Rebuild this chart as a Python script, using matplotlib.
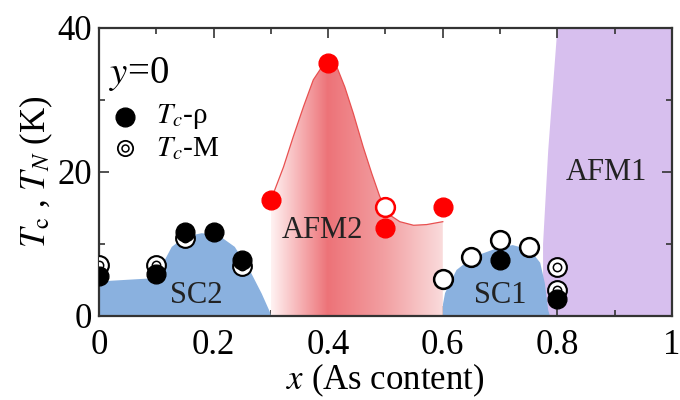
import numpy as np
import matplotlib
matplotlib.use("Agg")
import matplotlib.pyplot as plt
from matplotlib.patches import Polygon
from matplotlib.colors import LinearSegmentedColormap
from matplotlib.ticker import MultipleLocator

plt.rcParams['font.family'] = ['Liberation Serif', 'DejaVu Serif']
plt.rcParams['mathtext.fontset'] = 'stix'

# Tc from resistivity (filled black)
tc_rho_x = [0, 0.1, 0.15, 0.2, 0.25, 0.7, 0.8]
tc_rho_y = [5.5, 5.9, 11.7, 11.7, 7.8, 7.8, 2.3]
# Tc from magnetization (double circle)
tc_m_x = [0, 0.1, 0.15, 0.25, 0.8, 0.8]
tc_m_y = [7.1, 7.1, 10.8, 6.9, 6.75, 3.6]
# open circles in SC1
open_x = [0.6, 0.65, 0.7, 0.75]
open_y = [5.2, 8.25, 10.5, 9.6]
# TN (red)
tn_x = [0.3, 0.4, 0.5, 0.6]
tn_y = [16.1, 35.2, 12.2, 15.1]
tn_open_x = [0.5]
tn_open_y = [15.2]

# phase boundaries
afm2_x = [0.30, 0.322, 0.339, 0.357, 0.374, 0.389, 0.40, 0.415, 0.429, 0.444,
          0.461, 0.476, 0.49, 0.508, 0.525, 0.549, 0.572, 0.60]
afm2_y = [16.1, 20.7, 24.9, 29.1, 32.8, 34.6, 35.3, 34.6, 31.8, 28.1,
          23.5, 19.8, 16.6, 14.0, 13.1, 12.6, 12.7, 13.1]
sc2_x = [0, 0, 0.086, 0.109, 0.127, 0.15, 0.179, 0.208, 0.237, 0.266, 0.284, 0.298, 0.30]
sc2_y = [0, 4.8, 5.2, 6.9, 9.6, 11.0, 11.5, 11.25, 9.6, 5.9, 3.1, 0.6, 0]
sc1_x = [0.60, 0.60, 0.604, 0.624, 0.653, 0.694, 0.722, 0.752, 0.77, 0.778, 0.784, 0.787]
sc1_y = [0, 1.5, 3.2, 6.4, 8.2, 9.4, 9.85, 9.2, 7.4, 4.6, 0.8, 0]
afm1_x = [0.775, 0.775, 0.784, 0.80, 1.0, 1.0]
afm1_y = [0, 10, 23, 40, 40, 0]

blue = '#8ab1df'
purple = '#d7bfee'

fig = plt.figure(figsize=(6.8, 4), dpi=100)
ax = fig.add_axes([0.1456, 0.21, 0.8426, 0.72])

ax.add_patch(Polygon(list(zip(afm1_x, afm1_y)), closed=True, fc=purple, ec='none', zorder=1))
ax.add_patch(Polygon(list(zip(sc2_x, sc2_y)), closed=True, fc=blue, ec='none', zorder=2))
ax.add_patch(Polygon(list(zip(sc1_x, sc1_y)), closed=True, fc=blue, ec='none', zorder=2))

# AFM2 gradient region
afm2_poly = Polygon([(0.3, 0)] + list(zip(afm2_x, afm2_y)) + [(0.6, 0)],
                    closed=True, fc='none', ec='none')
ax.add_patch(afm2_poly)
cmap = LinearSegmentedColormap.from_list('afm2', [
    (0.0, (1.0, 0.95, 0.95)),
    (0.33, (0.93, 0.45, 0.47)),
    (0.67, (0.95, 0.63, 0.64)),
    (1.0, (0.98, 0.86, 0.86))])
grad = np.linspace(0, 1, 256).reshape(1, -1)
im = ax.imshow(grad, cmap=cmap, extent=[0.3, 0.6, 0, 40], aspect='auto',
               origin='lower', zorder=2)
im.set_clip_path(afm2_poly)
ax.plot(afm2_x, afm2_y, color='#e85050', lw=0.9, zorder=3)

ms = 13.5
# Tc-M markers
ax.plot(tc_m_x, tc_m_y, 'o', ms=ms, mfc='white', mec='black', mew=1.5, zorder=4, ls='none')
ax.plot(tc_m_x, tc_m_y, 'o', ms=6, mfc='none', mec='black', mew=1.1, zorder=4, ls='none')
# Tc-rho
ax.plot(tc_rho_x, tc_rho_y, 'o', ms=ms, mfc='black', mec='black', zorder=5, ls='none')
ax.plot(open_x, open_y, 'o', ms=ms, mfc='white', mec='black', mew=1.8, zorder=5, ls='none')
ax.plot(tn_x, tn_y, 'o', ms=ms, mfc='red', mec='red', zorder=5, ls='none')
ax.plot(tn_open_x, tn_open_y, 'o', ms=ms, mfc='white', mec='red', mew=1.8, zorder=5, ls='none')

# legend
ax.plot([0.045], [27.7], 'o', ms=ms, mfc='black', mec='black', zorder=6)
ax.plot([0.045], [23.3], 'o', ms=11, mfc='white', mec='black', mew=1.3, zorder=6)
ax.plot([0.045], [23.3], 'o', ms=5, mfc='none', mec='black', mew=1.1, zorder=6)
ax.text(0.1, 27.7, r'$T_c$-ρ', fontsize=21, va='center', ha='left', zorder=6)
ax.text(0.1, 23.3, r'$T_c$-M', fontsize=21, va='center', ha='left', zorder=6)
ax.text(0.018, 33.6, r'$y$=0', fontsize=28, va='center', ha='left', zorder=6)

ax.text(0.17, 2.9, 'SC2', fontsize=22, ha='center', va='center', color='#222222', zorder=6)
ax.text(0.70, 2.9, 'SC1', fontsize=22, ha='center', va='center', color='#222222', zorder=6)
ax.text(0.39, 11.9, 'AFM2', fontsize=22, ha='center', va='center', color='#222222', zorder=6)
ax.text(0.885, 20, 'AFM1', fontsize=22, ha='center', va='center', color='#222222', zorder=6)

ax.set_xlim(0, 1)
ax.set_ylim(0, 40)
ax.set_xticks([0, 0.2, 0.4, 0.6, 0.8, 1.0])
ax.set_xticklabels(['0', '0.2', '0.4', '0.6', '0.8', '1'])
ax.xaxis.set_minor_locator(MultipleLocator(0.1))
ax.set_yticks([0, 20, 40])
ax.yaxis.set_minor_locator(MultipleLocator(10))
ax.tick_params(which='both', direction='in', top=True, right=True, width=1.2,
               color='#333333', labelsize=25)
ax.tick_params(axis='x', which='both', pad=9)
ax.tick_params(axis='y', which='both', pad=5)
ax.tick_params(which='major', length=7)
ax.tick_params(which='minor', length=4.5)
for s in ax.spines.values():
    s.set_linewidth(1.6)
    s.set_color('#333333')

ax.set_xlabel(r'$x$ (As content)', fontsize=25, labelpad=0)
ax.set_ylabel(r'$T_{\rm c}$ , $T_N$ (K)', fontsize=25, labelpad=2)

fig.savefig('out.png', dpi=100)
